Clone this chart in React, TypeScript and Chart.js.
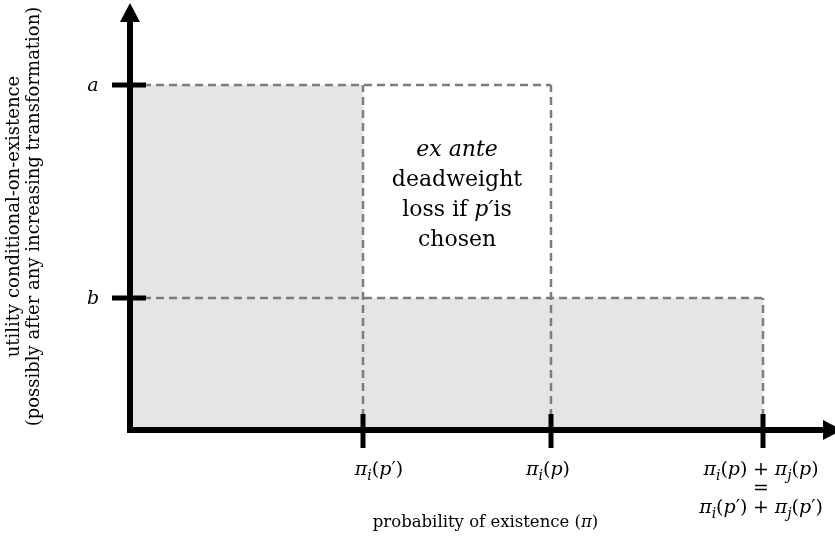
import React, { useEffect, useRef } from "react";
import { Chart, registerables } from "chart.js";

Chart.register(...registerables);

// ---- data ----
const xMax = 7.05;
const yMax = 4.27;
const piPrime = 2.33; // π_i(p')
const piP = 4.21; // π_i(p)
const piSum = 6.33; // π_i(p) + π_j(p)
const aVal = 3.45;
const bVal = 1.32;

const xTickValues = [piPrime, piP, piSum];
const xTickLabels: string[][] = [
  ["π_i(p′)"],
  ["π_i(p)"],
  ["π_i(p) + π_j(p)", "=", "π_i(p′) + π_j(p′)"],
];
const yTickValues = [aVal, bVal];
const yTickLabels = ["a", "b"];
type Seg = { t: string; i?: boolean };
const xTitle: Seg[] = [{ t: "probability of existence (" }, { t: "π", i: true }, { t: ")" }];
const yTitle = [
  "utility conditional-on-existence",
  "(possibly after any increasing transformation)",
];
const boxText: Seg[][] = [
  [{ t: "ex ante", i: true }],
  [{ t: "deadweight" }],
  [{ t: "loss if " }, { t: "p′", i: true }, { t: "is" }],
  [{ t: "chosen" }],
];

// ---- styles ----
const SERIF = '"DejaVu Serif", serif';
const FILL = "#e5e5e5";
const DASH = "#7c7c7c";
const xLabelShift = [16, -3, -2];

function drawMath(ctx: CanvasRenderingContext2D, text: string, cx: number, baseline: number, size: number) {
  type P = { s: string; sub: boolean; it: boolean };
  const pieces: P[] = [];
  for (let k = 0; k < text.length; k++) {
    const ch = text[k];
    if (ch === "_" && k + 1 < text.length) {
      pieces.push({ s: text[k + 1], sub: true, it: true });
      k++;
      continue;
    }
    const it = /[a-zπ]/.test(ch);
    pieces.push({ s: ch, sub: false, it });
  }
  const fontFor = (p: P) =>
    `${p.it ? "italic " : ""}${p.sub ? Math.round(size * 0.72) : size}px ${SERIF}`;
  let total = 0;
  const widths = pieces.map((p) => {
    ctx.font = fontFor(p);
    const w = p.s === " " ? size * 0.3 : ctx.measureText(p.s).width;
    total += w;
    return w;
  });
  let x = cx - total / 2;
  ctx.textAlign = "left";
  ctx.textBaseline = "alphabetic";
  pieces.forEach((p, idx) => {
    ctx.font = fontFor(p);
    if (p.s !== " ") ctx.fillText(p.s, x, baseline + (p.sub ? size * 0.25 : 0));
    x += widths[idx];
  });
}

function drawSegs(ctx: CanvasRenderingContext2D, segs: Seg[], cx: number, baseline: number, size: number) {
  let total = 0;
  const ws = segs.map((s) => {
    ctx.font = `${s.i ? "italic " : ""}${size}px ${SERIF}`;
    const w = ctx.measureText(s.t).width;
    total += w;
    return w;
  });
  let x = cx - total / 2;
  ctx.textAlign = "left";
  ctx.textBaseline = "alphabetic";
  segs.forEach((s, k) => {
    ctx.font = `${s.i ? "italic " : ""}${size}px ${SERIF}`;
    ctx.fillText(s.t, x, baseline);
    x += ws[k];
  });
}

const decorPlugin = {
  id: "decor",
  afterDatasetsDraw(chart: any) {
    const ctx: CanvasRenderingContext2D = chart.ctx;
    const xs = chart.scales.x;
    const ys = chart.scales.y;
    const x0 = xs.getPixelForValue(0);
    const y0 = ys.getPixelForValue(0);
    const xEnd = xs.getPixelForValue(xMax);
    const yEnd = ys.getPixelForValue(yMax);
    ctx.save();
    ctx.fillStyle = "#000";
    ctx.strokeStyle = "#000";
    // axes
    ctx.lineWidth = 6;
    ctx.lineCap = "butt";
    ctx.beginPath();
    ctx.moveTo(x0, y0 + 3);
    ctx.lineTo(x0, yEnd + 18);
    ctx.moveTo(x0 - 3, y0);
    ctx.lineTo(xEnd - 12, y0);
    ctx.stroke();
    // arrows
    ctx.beginPath();
    ctx.moveTo(x0, yEnd);
    ctx.lineTo(x0 - 10, yEnd + 19);
    ctx.lineTo(x0 + 10, yEnd + 19);
    ctx.closePath();
    ctx.fill();
    ctx.beginPath();
    ctx.moveTo(xEnd + 7, y0);
    ctx.lineTo(xEnd - 12, y0 - 10);
    ctx.lineTo(xEnd - 12, y0 + 10);
    ctx.closePath();
    ctx.fill();
    // ticks
    ctx.lineWidth = 5;
    xTickValues.forEach((v) => {
      const px = xs.getPixelForValue(v);
      ctx.beginPath();
      ctx.moveTo(px, y0 - 16);
      ctx.lineTo(px, y0 + 18);
      ctx.stroke();
    });
    yTickValues.forEach((v) => {
      const py = ys.getPixelForValue(v);
      ctx.beginPath();
      ctx.moveTo(x0 - 18, py);
      ctx.lineTo(x0 + 16, py);
      ctx.stroke();
    });
    // y tick labels
    ctx.fillStyle = "#000";
    yTickValues.forEach((v, k) => {
      const py = ys.getPixelForValue(v);
      ctx.font = `italic 19px ${SERIF}`;
      ctx.textAlign = "center";
      ctx.textBaseline = "alphabetic";
      ctx.fillText(yTickLabels[k], x0 - 37, py + 6);
    });
    // x tick labels
    xTickValues.forEach((v, k) => {
      const px = xs.getPixelForValue(v) + xLabelShift[k];
      xTickLabels[k].forEach((line, li) => {
        drawMath(ctx, line, px, y0 + 45 + li * 19, 19);
      });
    });
    // x title
    drawSegs(ctx, xTitle, (x0 + xEnd) / 2 + 3, y0 + 97, 16.5);
    // y title
    ctx.save();
    ctx.translate(0, (y0 + yEnd) / 2);
    ctx.rotate(-Math.PI / 2);
    ctx.font = `18px ${SERIF}`;
    ctx.textAlign = "center";
    ctx.textBaseline = "middle";
    ctx.fillText(yTitle[0], 0, 14);
    ctx.fillText(yTitle[1], 0, 34);
    ctx.restore();
    // box text
    const bcx = (xs.getPixelForValue(piPrime) + xs.getPixelForValue(piP)) / 2;
    const btop = ys.getPixelForValue(aVal);
    boxText.forEach((segs, k) => {
      drawSegs(ctx, segs, bcx, btop + 71 + k * 30, 22);
    });
    ctx.restore();
  },
};

function dashed(points: { x: number; y: number }[]) {
  return {
    data: points,
    showLine: true,
    borderColor: DASH,
    borderWidth: 2.5,
    borderDash: [8, 5],
    pointRadius: 0,
    fill: false,
    order: 0,
  };
}

function filled(points: { x: number; y: number }[]) {
  return {
    data: points,
    showLine: true,
    borderWidth: 0,
    pointRadius: 0,
    backgroundColor: FILL,
    fill: "origin",
    order: 1,
  };
}

export default function App() {
  const ref = useRef<HTMLCanvasElement>(null);
  useEffect(() => {
    if (!ref.current) return;
    const chart = new Chart(ref.current, {
      type: "scatter",
      data: {
        datasets: [
          filled([
            { x: 0, y: aVal },
            { x: piPrime, y: aVal },
          ]),
          filled([
            { x: piPrime, y: bVal },
            { x: piSum, y: bVal },
          ]),
          dashed([
            { x: 0, y: aVal },
            { x: piP, y: aVal },
          ]),
          dashed([
            { x: piPrime, y: 0 },
            { x: piPrime, y: aVal },
          ]),
          dashed([
            { x: piP, y: 0 },
            { x: piP, y: aVal },
          ]),
          dashed([
            { x: 0, y: bVal },
            { x: piSum, y: bVal },
          ]),
          dashed([
            { x: piSum, y: 0 },
            { x: piSum, y: bVal },
          ]),
        ] as any,
      },
      options: {
        animation: false,
        responsive: true,
        maintainAspectRatio: false,
        layout: { padding: { left: 130, right: 0, top: 3, bottom: 106 } },
        plugins: { legend: { display: false }, tooltip: { enabled: false } },
        scales: {
          x: { type: "linear", min: 0, max: xMax, display: false },
          y: { type: "linear", min: 0, max: yMax, display: false },
        },
        events: [],
      },
      plugins: [decorPlugin],
    });
    return () => chart.destroy();
  }, []);
  return (
    <div style={{ position: "fixed", left: 0, top: 0, width: 835, height: 536, background: "#fff" }}>
      <canvas ref={ref} />
    </div>
  );
}
